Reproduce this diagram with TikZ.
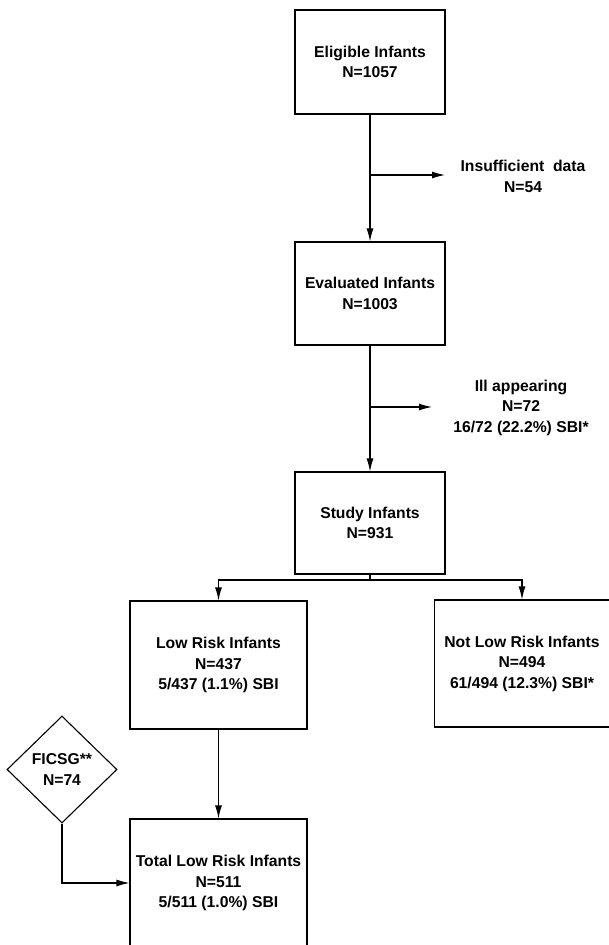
\documentclass[tikz,border=0pt]{standalone}
\usepackage{fontspec}
\setmainfont{Liberation Sans}
\usetikzlibrary{shapes.geometric,arrows.meta}
\begin{document}
\begin{tikzpicture}[x=1pt,y=-1pt,
  txt/.style={font=\fontsize{15.7}{20.5}\selectfont\bfseries},
  box/.style={txt,draw,line width=1.1pt,inner sep=0pt,align=center},
  lbl/.style={txt,inner sep=0pt,align=center},
  ln/.style={line width=1.1pt},
  arr/.style={line width=1.1pt,-{Latex[length=13pt,width=7pt]}}]
\useasboundingbox (0,0) rectangle (609,945);
\clip (0,0) rectangle (609,945);

% main column
\node[box,minimum width=150pt,minimum height=104pt] (elig) at (370,62) {Eligible Infants\\N=1057};
\node[box,minimum width=150pt,minimum height=103pt] (eval) at (370,293.5) {Evaluated Infants\\N=1003};
\node[box,minimum width=150pt,minimum height=102pt] (study) at (370,523) {Study Infants\\N=931};

% exclusions to the right
\node[lbl] (insuf) at (523,176.5) {Insufficient\ \ data\\N=54};
\node[lbl] (ill) at (521,407.5) {Ill appearing\\N=72\\16/72 (22.2\%) SBI*};
\coordinate (b1) at (370,175);
\coordinate (t1) at (445,175);
\coordinate (b2) at (370,407);
\coordinate (t2) at (432,407);

\draw[arr] (elig) -- (eval);
\draw[arr] (b1) -- (t1);
\draw[arr] (eval) -- (study);
\draw[arr] (b2) -- (t2);

% risk split
\node[box,minimum width=177pt,minimum height=128pt] (low) at (218.5,665) {Low Risk Infants\\N=437\\5/437 (1.1\%) SBI};
\node[box,minimum width=175pt,minimum height=127pt] (notlow) at (522,663.5) {Not Low Risk Infants\\N=494\\61/494 (12.3\%) SBI*};
\coordinate (split) at (370,580);
\draw[ln] (study.south) -- (split);
\draw[arr] (split) -| (low.north);
\draw[arr] (split) -| (notlow.north);

% combined low-risk group
\node[box,minimum width=177pt,minimum height=128pt] (total) at (218.5,883) {Total Low Risk Infants\\N=511\\5/511 (1.0\%) SBI};
\node[txt,draw,line width=1.1pt,diamond,minimum width=110pt,minimum height=107pt,inner sep=0pt,align=center] (ficsg) at (62,769.5) {FICSG**\\N=74};
\draw[arr] (low) -- (total);
\draw[arr] (ficsg.south) |- (total.west);
\end{tikzpicture}
\end{document}
